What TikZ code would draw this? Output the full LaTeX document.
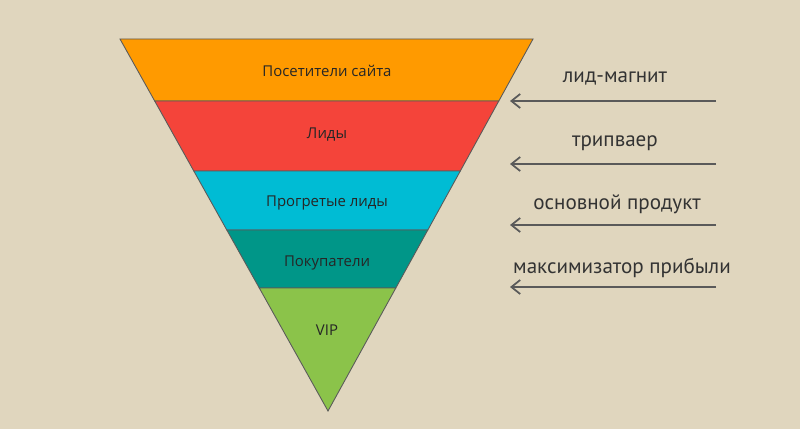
\documentclass[tikz,border=0pt]{standalone}
\usepackage{fontspec}
\setmainfont{Open Sans}
\newfontfamily\narrowfont{PT Sans}
\usetikzlibrary{positioning, arrows.meta}
\definecolor{bgbeige}{HTML}{E0D6BE}
\definecolor{bandorange}{HTML}{FF9A00}
\definecolor{bandred}{HTML}{F4443A}
\definecolor{bandcyan}{HTML}{00BCD4}
\definecolor{bandteal}{HTML}{009688}
\definecolor{bandgreen}{HTML}{8BC34A}
\definecolor{edgegray}{HTML}{5A5A5A}

\begin{document}
\begin{tikzpicture}[x=0.02cm, y=-0.02cm,
  band/.style={draw=edgegray, line width=0.5pt},
  bandlabel/.style={font=\fontsize{8.5}{10}\selectfont, text=black!85},
  steplabel/.style={font=\narrowfont\fontsize{12}{14}\selectfont, text=black!80},
  feed/.style={draw=edgegray, line width=1pt, -{Straight Barb[length=5pt,width=8pt]}}
]

% Background
\fill[bgbeige] (0,0) rectangle (800,429);
\useasboundingbox (0,0) rectangle (800,429);

% Funnel edges
\coordinate (tl) at (120,39);
\coordinate (tr) at (533,39);
\coordinate (apex) at (328,411);
\coordinate (l1) at (154.7,101); \coordinate (r1) at (498.8,101);
\coordinate (l2) at (193.8,171); \coordinate (r2) at (460.3,171);
\coordinate (l3) at (226.8,230); \coordinate (r3) at (427.8,230);
\coordinate (l4) at (259.3,288); \coordinate (r4) at (395.8,288);

% Bands
\filldraw[band, fill=bandorange] (tl) -- (tr) -- (r1) -- (l1) -- cycle;
\filldraw[band, fill=bandred] (l1) -- (r1) -- (r2) -- (l2) -- cycle;
\filldraw[band, fill=bandcyan] (l2) -- (r2) -- (r3) -- (l3) -- cycle;
\filldraw[band, fill=bandteal] (l3) -- (r3) -- (r4) -- (l4) -- cycle;
\filldraw[band, fill=bandgreen] (l4) -- (r4) -- (apex) -- cycle;

% Band labels
\node[bandlabel] (visitors) at (327,71) {Посетители сайта};
\node[bandlabel] (leads) at (327,135) {Лиды};
\node[bandlabel] (warm) at (327,203) {Прогретые лиды};
\node[bandlabel] (buyers) at (327,263) {Покупатели};
\node[bandlabel] (vip) at (327,330) {VIP};

% Offers
\coordinate (s1) at (716,101); \coordinate (e1) at (510,101);
\coordinate (s2) at (716,164); \coordinate (e2) at (510,164);
\coordinate (s3) at (716,225); \coordinate (e3) at (510,225);
\coordinate (s4) at (716,287); \coordinate (e4) at (510,287);
\draw[feed] (s1) -- (e1);
\draw[feed] (s2) -- (e2);
\draw[feed] (s3) -- (e3);
\draw[feed] (s4) -- (e4);

\node[steplabel] (magnet) at (615,78) {лид-магнит};
\node[steplabel] (trip) at (615,143) {трипваер};
\node[steplabel] (core) at (617,204) {основной продукт};
\node[steplabel] (maxi) at (622,268) {максимизатор прибыли};
\end{tikzpicture}
\end{document}
